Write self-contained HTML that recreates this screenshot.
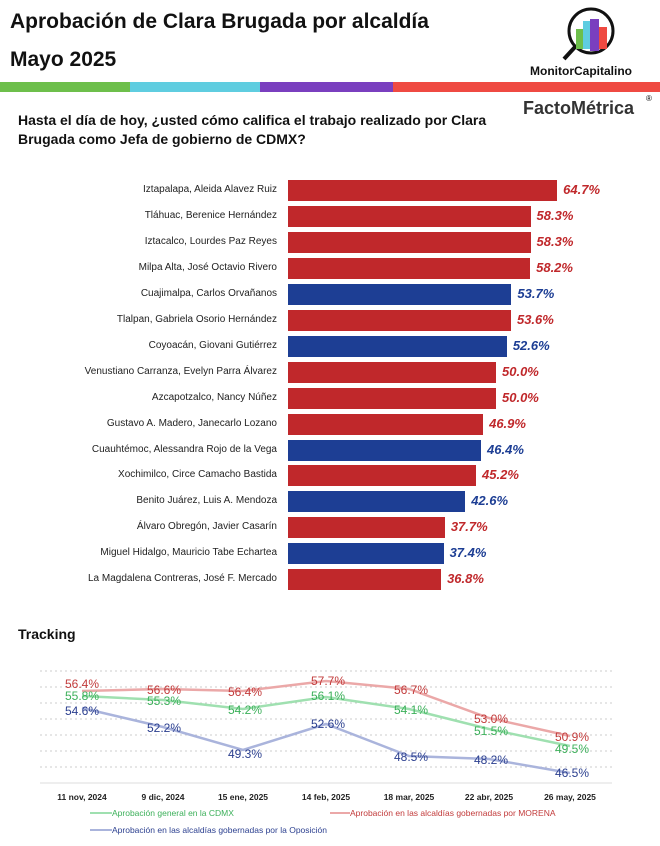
<!DOCTYPE html><html><head><meta charset="utf-8"><style>
body{margin:0;width:660px;height:846px;background:#fff;font-family:"Liberation Sans",sans-serif;position:relative;overflow:hidden}
.t{position:absolute;font-weight:bold;color:#111}
.row{position:absolute;left:0;width:660px;height:21px}
.lab{position:absolute;right:383px;top:4px;font-size:10px;color:#222;white-space:nowrap}
.bar{position:absolute;left:288px;top:0;height:21px}
.val{position:absolute;top:2px;font-size:13px;font-weight:bold;font-style:italic}
</style></head><body>
<div class="t" style="left:10px;top:10px;font-size:21px">Aprobación de Clara Brugada por alcaldía</div>
<div class="t" style="left:10px;top:48px;font-size:21px">Mayo 2025</div>
<div style="position:absolute;top:82px;left:0;width:130px;height:10px;background:#6dbf4b"></div>
<div style="position:absolute;top:82px;left:130px;width:130px;height:10px;background:#5fcde0"></div>
<div style="position:absolute;top:82px;left:260px;width:133px;height:10px;background:#7a3fbf"></div>
<div style="position:absolute;top:82px;left:393px;width:267px;height:10px;background:#ef4a42"></div>
<svg style="position:absolute;left:560px;top:5px" width="66" height="58"><circle cx="31" cy="26" r="22" fill="none" stroke="#111" stroke-width="3"/><line x1="15" y1="42" x2="4" y2="54" stroke="#111" stroke-width="4"/><rect x="16" y="24" width="7" height="20" fill="#6dbf4b"/><rect x="23" y="16" width="7" height="28" fill="#5fcde0"/><rect x="30" y="14" width="9" height="32" fill="#7a3fbf"/><rect x="39" y="22" width="8" height="22" fill="#ef4a42"/></svg>
<div class="t" style="left:530px;top:64px;font-size:12px">MonitorCapitalino</div>
<div class="t" style="left:523px;top:98px;font-size:18px;color:#333">FactoMétrica</div>
<div style="position:absolute;left:646px;top:94px;font-size:8px">®</div>
<div class="t" style="left:18px;top:111px;font-size:14px;line-height:19px">Hasta el día de hoy, ¿usted cómo califica el trabajo realizado por Clara<br>Brugada como Jefa de gobierno de CDMX?</div>
<div id="bars"></div>
<div class="t" style="left:18px;top:626px;font-size:14px">Tracking</div>
<svg style="position:absolute;left:0;top:660px" width="660" height="186" font-family="Liberation Sans" font-size="12">
<g stroke="#ccc" stroke-dasharray="2,3"><line x1="40" x2="612" y1="11" y2="11"/><line x1="40" x2="612" y1="27" y2="27"/><line x1="40" x2="612" y1="43" y2="43"/><line x1="40" x2="612" y1="59" y2="59"/><line x1="40" x2="612" y1="75" y2="75"/><line x1="40" x2="612" y1="91" y2="91"/><line x1="40" x2="612" y1="107" y2="107"/></g>
<line x1="40" x2="612" y1="123" y2="123" stroke="#ddd"/>
<polyline fill="none" stroke="#eba8a8" stroke-width="2.5" points="82,31 163,29 243,31 326,21 409,29 489,58 570,76"/>
<polyline fill="none" stroke="#9fe0b0" stroke-width="2.5" points="82,36 163,40 243,49 326,37 409,49 489,69 570,86"/>
<polyline fill="none" stroke="#aab4dc" stroke-width="2.5" points="82,48 163,67 243,90 326,64 409,96 489,99 570,113"/>
<g fill="#c23b3b"><text x="65" y="28">56.4%</text><text x="147" y="34">56.6%</text><text x="228" y="36">56.4%</text><text x="311" y="25">57.7%</text><text x="394" y="34">56.7%</text><text x="474" y="63">53.0%</text><text x="555" y="81">50.9%</text></g>
<g fill="#3cb05a"><text x="65" y="40">55.8%</text><text x="147" y="45">55.3%</text><text x="228" y="54">54.2%</text><text x="311" y="40">56.1%</text><text x="394" y="54">54.1%</text><text x="474" y="75">51.5%</text><text x="555" y="93">49.5%</text></g>
<g fill="#2b3f8f"><text x="65" y="55">54.6%</text><text x="147" y="72">52.2%</text><text x="228" y="98">49.3%</text><text x="311" y="68">52.6%</text><text x="394" y="101">48.5%</text><text x="474" y="104">48.2%</text><text x="555" y="117">46.5%</text></g>
<g fill="#222" font-size="8.5" font-weight="bold" text-anchor="middle"><text x="82" y="140">11 nov, 2024</text><text x="163" y="140">9 dic, 2024</text><text x="243" y="140">15 ene, 2025</text><text x="326" y="140">14 feb, 2025</text><text x="409" y="140">18 mar, 2025</text><text x="489" y="140">22 abr, 2025</text><text x="570" y="140">26 may, 2025</text></g>
<line x1="90" x2="112" y1="153" y2="153" stroke="#9fe0b0" stroke-width="2"/><text x="112" y="156" font-size="8.5" fill="#3cb05a">Aprobación general en la CDMX</text>
<line x1="330" x2="350" y1="153" y2="153" stroke="#eba8a8" stroke-width="2"/><text x="350" y="156" font-size="8.5" fill="#c23b3b">Aprobación en las alcaldías gobernadas por MORENA</text>
<line x1="90" x2="112" y1="170" y2="170" stroke="#aab4dc" stroke-width="2"/><text x="112" y="173" font-size="8.5" fill="#2b3f8f">Aprobación en las alcaldías gobernadas por la Oposición</text>
</svg>
<script>
var d=[["Iztapalapa, Aleida Alavez Ruiz",64.7,0],["Tláhuac, Berenice Hernández",58.3,0],["Iztacalco, Lourdes Paz Reyes",58.3,0],["Milpa Alta, José Octavio Rivero",58.2,0],["Cuajimalpa, Carlos Orvañanos",53.7,1],["Tlalpan, Gabriela Osorio Hernández",53.6,0],["Coyoacán, Giovani Gutiérrez",52.6,1],["Venustiano Carranza, Evelyn Parra Álvarez",50.0,0],["Azcapotzalco, Nancy Núñez",50.0,0],["Gustavo A. Madero, Janecarlo Lozano",46.9,0],["Cuauhtémoc, Alessandra Rojo de la Vega",46.4,1],["Xochimilco, Circe Camacho Bastida",45.2,0],["Benito Juárez, Luis A. Mendoza",42.6,1],["Álvaro Obregón, Javier Casarín",37.7,0],["Miguel Hidalgo, Mauricio Tabe Echartea",37.4,1],["La Magdalena Contreras, José F. Mercado",36.8,0]];
var h="";d.forEach(function(r,i){var w=r[1]*4.16,c=r[2]?"#1d3e94":"#c0282b";
h+='<div class="row" style="top:'+(180+i*25.95)+'px"><div class="lab">'+r[0]+'</div><div class="bar" style="width:'+w+'px;background:'+c+'"></div><div class="val" style="left:'+(288+w+6)+'px;color:'+c+'">'+r[1].toFixed(1)+'%</div></div>';});
document.getElementById("bars").innerHTML=h;
</script>
</body></html>
